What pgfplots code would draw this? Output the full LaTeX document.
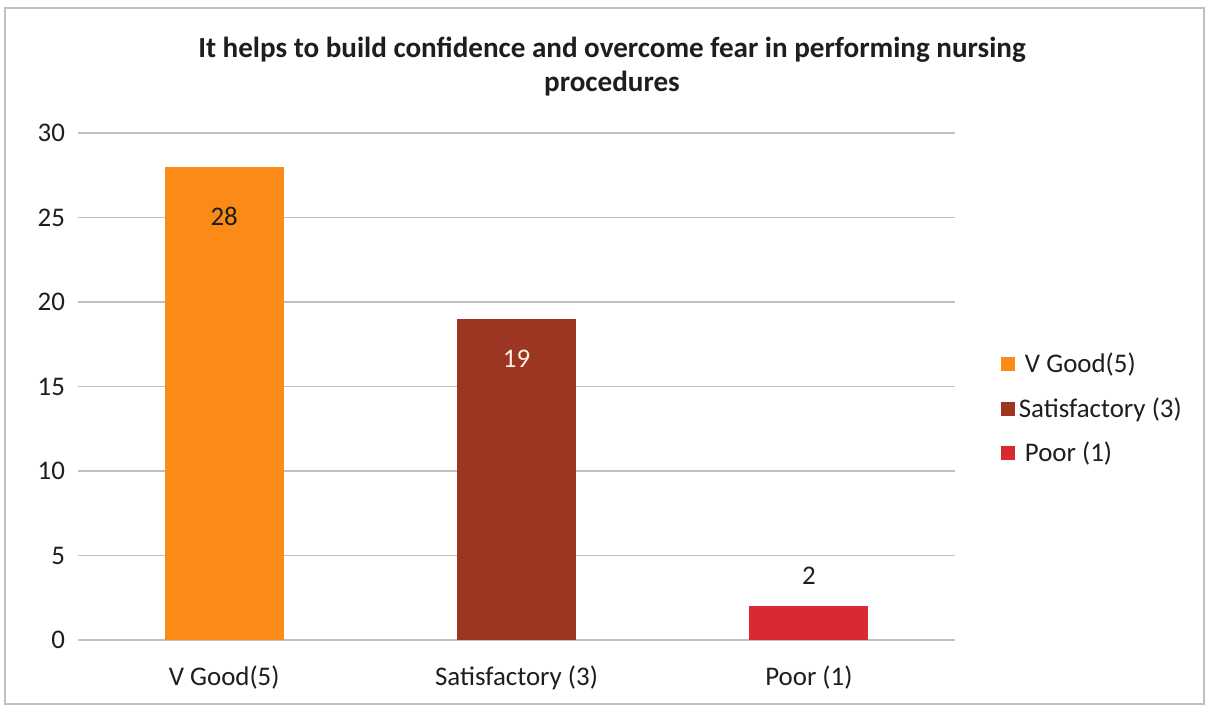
\documentclass[border=0pt]{standalone}
\usepackage{fontspec}
\setmainfont{Carlito}
\usepackage{pgfplots}
\pgfplotsset{compat=1.18}
\definecolor{cgood}{HTML}{FB8A16}
\definecolor{csat}{HTML}{9C3623}
\definecolor{cpoor}{HTML}{D92A33}
\definecolor{gridc}{HTML}{BFBFBF}
\definecolor{txt}{HTML}{1E1E1E}
\begin{document}
\begin{tikzpicture}[x=0.5bp,y=0.5bp]
  % frame of the chart
  \useasboundingbox (0,0) rectangle (1208,707);
  \fill[white] (0,0) rectangle (1208,707);
  \draw[gridc, line width=1pt] (5,3) rectangle (1204,699);
  \node[font=\fontsize{14.6}{17}\selectfont\bfseries, text=txt, align=center] at (612,640) {It helps to build confidence and overcome fear in performing nursing\\procedures};
  \begin{axis}[
      at={(39bp,33.5bp)}, anchor=south west,
      scale only axis,
      width=438.5bp, height=253.5bp,
      ybar, bar width=59.5bp, bar shift=0pt,
      xmin=-0.5, xmax=2.5,
      ymin=0, ymax=30, ytick={0,5,...,30},
      xtick={0,1,2},
      xticklabels={V Good(5),Satisfactory (3),Poor (1)},
      extra x ticks={-0.5,0.5,1.5,2.5},
      extra x tick labels={},
      extra x tick style={major tick length=8pt, tick style={gridc}, xticklabels={}, major tick style={gridc}, grid=none},
      major x tick style={draw=none},
      ymajorgrids, grid style={gridc, line width=0.7pt},
      axis line style={gridc},
      axis x line*=bottom, axis y line*=left,
      y axis line style={draw=none},
      ytick style={draw=none},
      tick label style={font=\fontsize{13.5}{15}\selectfont, text=txt},
      /pgf/number format/assume math mode=true,
      yticklabel style={xshift=-3bp},
      xticklabel style={yshift=-5bp},
      legend style={at={(1.045,0.456)}, anchor=west, draw=none, fill=none,
        font=\fontsize{13.5}{15}\selectfont, text=txt, row sep=7bp, cells={anchor=west}},
      legend image code/.code={\fill[#1] (0bp,-3.5bp) rectangle (7bp,3.5bp);},
    ]
    \addplot[fill=cgood, draw=none,
      nodes near coords, every node near coord/.style={anchor=center, yshift=-25bp, text=txt, font=\fontsize{13.5}{15}\selectfont}]
      coordinates {(0,28)};
    \addlegendentry{\ V Good(5)}
    \addplot[fill=csat, draw=none,
      nodes near coords, every node near coord/.style={anchor=center, yshift=-20bp, text={white!88!orange}, font=\fontsize{13.5}{15}\selectfont}]
      coordinates {(1,19)};
    \addlegendentry{Satisfactory (3)}
    \addplot[fill=cpoor, draw=none,
      nodes near coords, every node near coord/.style={anchor=center, yshift=15bp, text=txt, font=\fontsize{13.5}{15}\selectfont}]
      coordinates {(2,2)};
    \addlegendentry{\ Poor (1)}
  \end{axis}
\end{tikzpicture}
\end{document}
